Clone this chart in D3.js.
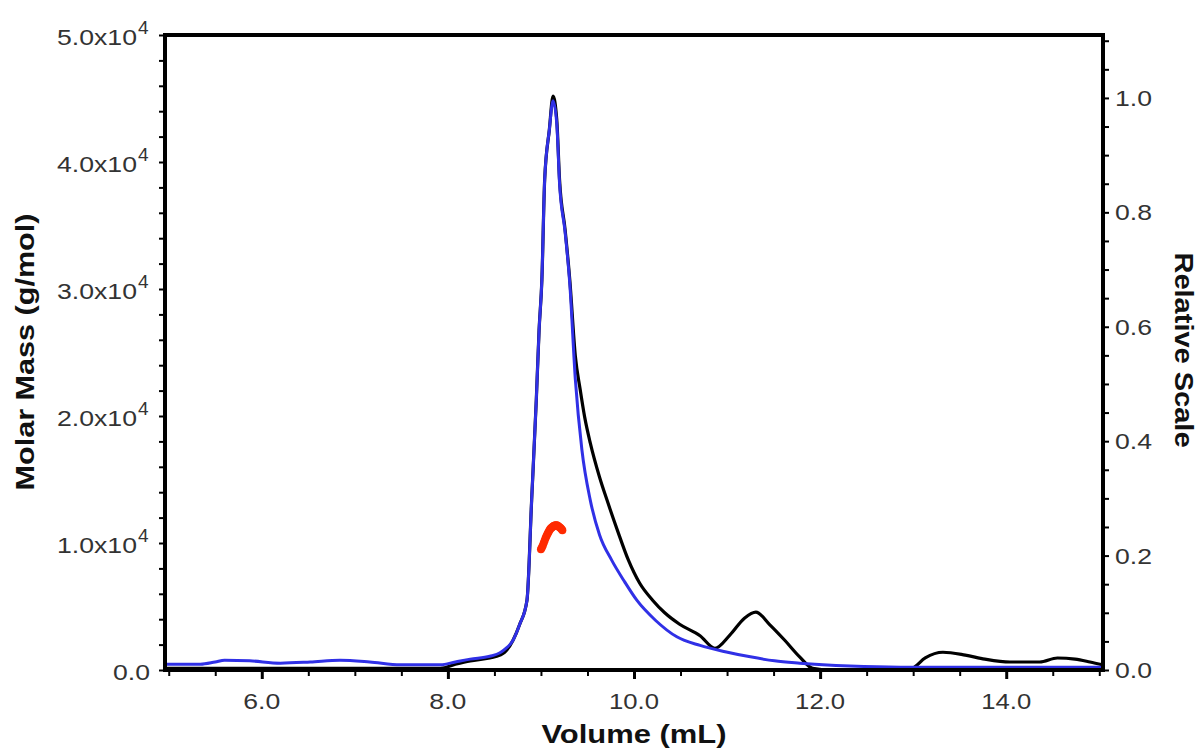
<!DOCTYPE html>
<html>
<head>
<meta charset="utf-8">
<script src="https://cdn.jsdelivr.net/npm/d3@7"></script>
<style>
  body { margin: 0; background: #fff; }
  svg { display: block; font-family: "Liberation Sans", Arial, sans-serif; }
</style>
</head>
<body>
<svg id="chart" width="1203" height="753"></svg>
<script>
// volume (mL) and relative scale for the two detector traces
const lsVolume = [4.96, 6.41, 7.92, 8.08, 8.24, 8.45, 8.56, 8.61, 8.70, 8.77, 8.85, 8.90, 8.95, 8.98, 9.01, 9.04, 9.09, 9.13,
  9.17, 9.20, 9.26, 9.31, 9.37, 9.42, 9.47, 9.53, 9.63, 9.71, 9.82, 9.94, 10.06, 10.20, 10.33, 10.49, 10.71, 10.87, 11.03,
  11.19, 11.31, 11.46, 11.62, 11.78, 11.92, 12.11, 12.86, 12.99, 13.13, 13.32, 13.56, 13.77, 14.04, 14.36, 14.55, 14.74, 14.90, 15.04];
const lsSignal = [0.003, 0.003, 0.003, 0.010, 0.016, 0.021, 0.026, 0.031, 0.052, 0.079, 0.122, 0.297, 0.472, 0.594, 0.682, 0.857, 0.944, 1.003,
  0.962, 0.857, 0.769, 0.682, 0.548, 0.492, 0.442, 0.397, 0.337, 0.297, 0.245, 0.192, 0.152, 0.122, 0.100, 0.080, 0.060, 0.038, 0.061,
  0.091, 0.101, 0.079, 0.052, 0.023, 0.003, 0.0, 0.0, 0.003, 0.021, 0.031, 0.026, 0.019, 0.014, 0.014, 0.021, 0.019, 0.014, 0.009];

const riVolume = [4.96, 5.34, 5.50, 5.60, 5.87, 6.20, 6.52, 6.84, 7.16, 7.49, 7.92, 8.08, 8.24, 8.45, 8.56, 8.61, 8.70, 8.77, 8.85,
  8.90, 8.95, 8.98, 9.01, 9.04, 9.09, 9.13, 9.17, 9.20, 9.26, 9.31, 9.37, 9.44, 9.53, 9.63, 9.76, 9.90, 10.03, 10.23, 10.46,
  10.71, 10.98, 11.25, 11.51, 11.78, 12.32, 12.86, 15.04];
const riSignal = [0.010, 0.010, 0.014, 0.017, 0.016, 0.012, 0.014, 0.017, 0.014, 0.009, 0.009, 0.014, 0.019, 0.024, 0.030, 0.036, 0.052, 0.079, 0.122,
  0.297, 0.472, 0.594, 0.682, 0.857, 0.944, 0.995, 0.955, 0.850, 0.765, 0.675, 0.507, 0.385, 0.297, 0.236, 0.192, 0.154, 0.122, 0.087, 0.058,
  0.043, 0.032, 0.023, 0.016, 0.012, 0.007, 0.005, 0.005];

// molar mass points across the peak
const massVolume = [9.00, 9.01, 9.02, 9.03, 9.04, 9.05, 9.06, 9.07, 9.08, 9.09, 9.10, 9.11, 9.12, 9.13, 9.14, 9.15, 9.16, 9.17, 9.18, 9.19, 9.20, 9.21, 9.22, 9.23];
const massValue = [9500, 9650, 9800, 10000, 10200, 10400, 10550, 10700, 10850, 10980, 11100, 11180, 11250, 11300, 11350, 11380, 11400, 11390, 11350, 11300, 11250, 11180, 11100, 11000];

const xTicks = [6, 8, 10, 12, 14];
const massTicks = [0, 10000, 20000, 30000, 40000, 50000];
const relTicks = [0, 0.2, 0.4, 0.6, 0.8, 1.0];

const svg = d3.select("#chart");
const mLeft = 165, mRight = 1103, mTop = 35, mBottom = 670;

const x = d3.scaleLinear().domain([4.96, 15.04]).range([mLeft, mRight]);
const yMass = d3.scaleLinear().domain([0, 50000]).range([mBottom, mTop]);
const yRel = d3.scaleLinear().domain([0, 1.11]).range([mBottom, mTop]);

svg.append("defs").append("clipPath").attr("id", "plot")
  .append("rect").attr("x", mLeft).attr("y", mTop).attr("width", mRight - mLeft).attr("height", mBottom - mTop);

const plot = svg.append("g").attr("clip-path", "url(#plot)");

const relLine = d3.line()
  .x(d => x(d[0]))
  .y(d => yRel(d[1]))
  .curve(d3.curveMonotoneX);

plot.append("path")
  .datum(d3.zip(lsVolume, lsSignal))
  .attr("d", relLine)
  .attr("fill", "none")
  .attr("stroke", "#000")
  .attr("stroke-width", 3.2);

plot.append("path")
  .datum(d3.zip(riVolume, riSignal))
  .attr("d", relLine)
  .attr("fill", "none")
  .attr("stroke", "#3030e6")
  .attr("stroke-width", 3);

plot.selectAll("circle.mass")
  .data(d3.zip(massVolume, massValue))
  .join("circle")
  .attr("class", "mass")
  .attr("cx", d => x(d[0]))
  .attr("cy", d => yMass(d[1]))
  .attr("r", 4)
  .attr("fill", "#ff2a00");

// frame
svg.append("rect")
  .attr("x", mLeft).attr("y", mTop)
  .attr("width", mRight - mLeft).attr("height", mBottom - mTop)
  .attr("fill", "none").attr("stroke", "#000").attr("stroke-width", 4);

const tickColor = "#333";

// bottom axis
const xAxis = svg.append("g").attr("transform", `translate(0,${mBottom})`)
  .call(d3.axisBottom(x).tickValues(d3.range(5, 15.01, 0.5)).tickSize(6).tickFormat(""));
xAxis.select(".domain").remove();
xAxis.selectAll("line").attr("stroke-width", 2);
xAxis.selectAll("line").filter(d => xTicks.includes(d)).attr("y2", 9).attr("stroke-width", 3);
svg.append("g").selectAll("text").data(xTicks).join("text")
  .attr("x", d => x(d)).attr("y", 709)
  .attr("text-anchor", "middle")
  .attr("font-size", 22).attr("fill", tickColor)
  .attr("textLength", d => d >= 10 ? 50 : 37).attr("lengthAdjust", "spacingAndGlyphs")
  .text(d => d.toFixed(1));

// left axis
const yAxisL = svg.append("g").attr("transform", `translate(${mLeft},0)`)
  .call(d3.axisLeft(yMass).tickValues(d3.range(0, 50001, 2000)).tickSize(6).tickFormat(""));
yAxisL.select(".domain").remove();
yAxisL.selectAll("line").attr("stroke-width", 2);
const massLabels = svg.append("g").selectAll("g").data(massTicks).join("g");
massLabels.append("text")
  .attr("x", d => d === 0 ? 150 : 137).attr("y", d => yMass(d) + 10)
  .attr("text-anchor", "end")
  .attr("font-size", 22).attr("fill", tickColor)
  .attr("textLength", d => d === 0 ? 37 : 80).attr("lengthAdjust", "spacingAndGlyphs")
  .text(d => d === 0 ? "0.0" : (d / 10000).toFixed(1) + "x10");
massLabels.filter(d => d !== 0).append("text")
  .attr("x", 138).attr("y", d => yMass(d) - 1)
  .attr("font-size", 19).attr("fill", tickColor)
  .text("4");

// right axis
const yAxisR = svg.append("g").attr("transform", `translate(${mRight},0)`)
  .call(d3.axisRight(yRel).tickValues(d3.range(0, 1.101, 0.05)).tickSize(6).tickFormat(""));
yAxisR.select(".domain").remove();
yAxisR.selectAll("line").attr("stroke-width", 2);
svg.append("g").selectAll("text").data(relTicks).join("text")
  .attr("x", 1115).attr("y", d => yRel(d) + 8)
  .attr("font-size", 22).attr("fill", tickColor)
  .attr("textLength", 37).attr("lengthAdjust", "spacingAndGlyphs")
  .text(d => d.toFixed(1));

// axis titles
svg.append("text")
  .attr("x", 634).attr("y", 743)
  .attr("text-anchor", "middle")
  .attr("font-size", 26).attr("font-weight", "bold").attr("fill", "#111")
  .attr("textLength", 185).attr("lengthAdjust", "spacingAndGlyphs")
  .text("Volume (mL)");

svg.append("text")
  .attr("transform", "translate(34,352) rotate(-90)")
  .attr("text-anchor", "middle")
  .attr("font-size", 26).attr("font-weight", "bold").attr("fill", "#111")
  .attr("textLength", 277).attr("lengthAdjust", "spacingAndGlyphs")
  .text("Molar Mass (g/mol)");

svg.append("text")
  .attr("transform", "translate(1175,350) rotate(90)")
  .attr("text-anchor", "middle")
  .attr("font-size", 26).attr("font-weight", "bold").attr("fill", "#111")
  .attr("textLength", 195).attr("lengthAdjust", "spacingAndGlyphs")
  .text("Relative Scale");
</script>
</body>
</html>
